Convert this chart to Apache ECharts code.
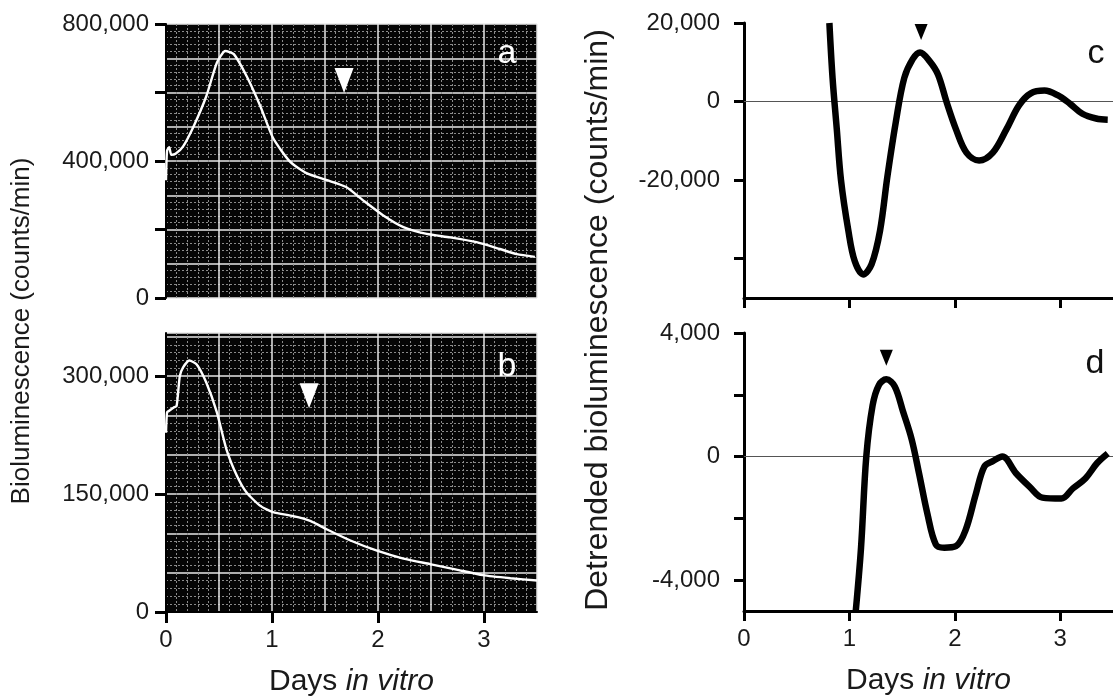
<!DOCTYPE html>
<html>
<head>
<meta charset="utf-8">
<script src="https://cdn.jsdelivr.net/npm/echarts@6/dist/echarts.min.js"></script>
<style>
html,body{margin:0;padding:0;background:#fff;}
#chart{width:1113px;height:700px;}
</style>
</head>
<body>
<div id="chart"></div>
<script>
// ---- Data ----
const daysA = [0, 0.01, 0.03, 0.05, 0.09, 0.16, 0.26, 0.38, 0.48, 0.56, 0.64, 0.76, 0.89, 1.01, 1.17, 1.33, 1.52, 1.70, 1.86, 2.05, 2.24, 2.46, 2.68, 2.93, 3.15, 3.31, 3.48];
const lumA  = [344000, 430000, 440000, 418000, 421000, 442000, 501000, 589000, 687000, 721000, 712000, 648000, 560000, 467000, 398000, 364000, 344000, 324000, 285000, 241000, 207000, 187000, 177000, 163000, 143000, 128000, 120000];

const daysB = [0, 0.01, 0.03, 0.07, 0.10, 0.13, 0.16, 0.22, 0.29, 0.38, 0.48, 0.57, 0.67, 0.76, 0.89, 1.01, 1.20, 1.36, 1.52, 1.74, 1.99, 2.24, 2.49, 2.74, 2.99, 3.25, 3.50];
const lumB  = [228000, 254000, 256000, 260000, 262000, 300000, 311000, 320000, 315000, 292000, 254000, 207000, 173000, 152000, 135000, 127000, 122000, 116000, 105000, 91000, 78000, 68000, 61000, 54000, 47000, 43000, 40000];

const daysC = [0.81, 0.84, 0.88, 0.92, 0.99, 1.05, 1.13, 1.21, 1.29, 1.36, 1.44, 1.52, 1.60, 1.67, 1.76, 1.84, 1.92, 2.01, 2.11, 2.23, 2.36, 2.49, 2.61, 2.72, 2.85, 2.97, 3.09, 3.21, 3.34, 3.45];
const detC  = [20000, 6000, -7000, -20000, -32900, -40600, -44000, -41400, -32900, -19100, -5200, 6000, 10800, 12500, 10300, 6900, 0, -7000, -13000, -15000, -13000, -7000, -900, 2100, 2800, 1700, -500, -3100, -4300, -4600];

const daysD = [1.06, 1.11, 1.16, 1.22, 1.28, 1.35, 1.43, 1.51, 1.59, 1.66, 1.74, 1.82, 1.90, 2.01, 2.10, 2.20, 2.28, 2.36, 2.45, 2.58, 2.71, 2.83, 3.01, 3.12, 3.24, 3.35, 3.45];
const detD  = [-5000, -2950, 0, 1660, 2320, 2500, 2270, 1440, 560, -540, -1860, -2850, -2950, -2900, -2400, -1200, -320, -150, 0, -540, -980, -1330, -1360, -1030, -700, -210, 100];

const arrowA = [[1.68, 635000]];
const arrowB = [[1.35, 275000]];
const arrowC = [[1.68, 17700]];
const arrowD = [[1.35, 3200]];

const dayTicks = [0, 1, 2, 3];
const ticksA = [0, 200000, 400000, 600000, 800000];
const labelsA = [0, 400000, 800000];
const ticksB = [0, 150000, 300000];
const ticksC = [-40000, -20000, 0, 20000];
const labelsC = [-20000, 0, 20000];
const ticksD = [-4000, -2000, 0, 2000, 4000];
const labelsD = [-4000, 0, 4000];

const panelLabels = ['a', 'b', 'c', 'd'];
const yTitleLeft = 'Bioluminescence (counts/min)';
const yTitleRight = 'Detrended bioluminescence (counts/min)';

// ---- Chart ----
const FONT = 'Liberation Sans, Arial, sans-serif';
const zip = (xs, ys) => xs.map((x, i) => [x, ys[i]]);
const fmt = v => v.toLocaleString('en-US');

const labelStyle = { fontFamily: FONT, fontSize: 24, color: '#1a1a1a' };
const nameRich = {
  n: { fontFamily: FONT, fontSize: 30, color: '#1a1a1a' },
  i: { fontFamily: FONT, fontSize: 30, color: '#1a1a1a', fontStyle: 'italic' }
};

function gridX(gridIndex, opts) {
  return Object.assign({
    type: 'value', gridIndex, min: 0, max: 3.5, interval: 1,
    axisLine: { show: false }, axisTick: { show: false }, axisLabel: { show: false },
    splitLine: { show: false }
  }, opts);
}

const chart = echarts.init(document.getElementById('chart'), null, { renderer: 'canvas' });

const darkSplitX = (gi) => gridX(gi, {
  interval: 0.5, position: 'top',
  splitLine: { show: true, lineStyle: { color: '#e8e8e8', width: 1.5 } },
  minorTick: { show: false, splitNumber: 5 },
  minorSplitLine: { show: true, lineStyle: { color: '#8a8a8a', width: 1, type: [2, 2] } }
});
const darkSplitY = (gi, max, interval) => ({
  type: 'value', gridIndex: gi, min: 0, max, interval, position: 'right',
  axisLine: { show: false }, axisTick: { show: false }, axisLabel: { show: false },
  splitLine: { show: true, lineStyle: { color: '#e8e8e8', width: 1.5 } },
  minorTick: { show: false, splitNumber: 5 },
  minorSplitLine: { show: true, lineStyle: { color: '#8a8a8a', width: 1, type: [2, 2] } }
});

const option = {
  animation: false,
  backgroundColor: '#ffffff',
  grid: [
    { left: 166, top: 24, width: 371, height: 274, show: true, backgroundColor: '#050505', borderWidth: 0 },
    { left: 166, top: 333, width: 371, height: 279, show: true, backgroundColor: '#050505', borderWidth: 0 },
    { left: 744, top: 23, width: 377, height: 275 },
    { left: 744, top: 333, width: 377, height: 278 }
  ],
  xAxis: [
    darkSplitX(0),
    gridX(1, {
      axisLine: { show: true, onZero: false, lineStyle: { color: '#000', width: 2 } },
      axisTick: { show: true, length: 11, lineStyle: { color: '#000', width: 3 }, customValues: dayTicks },
      axisLabel: { show: true, margin: 16, customValues: dayTicks, ...labelStyle },
      name: '{n|Days }{i|in vitro}', nameLocation: 'middle', nameGap: 55,
      nameTextStyle: { rich: nameRich }
    }),
    darkSplitX(1),
    gridX(2, {
      axisLine: { show: true, onZero: false, lineStyle: { color: '#000', width: 3 } },
      axisTick: { show: true, length: 10, lineStyle: { color: '#000', width: 3 }, customValues: dayTicks }
    }),
    gridX(3, {
      axisLine: { show: true, onZero: false, lineStyle: { color: '#000', width: 3 } },
      axisTick: { show: true, length: 10, lineStyle: { color: '#000', width: 3 }, customValues: dayTicks },
      axisLabel: { show: true, margin: 16, customValues: dayTicks, ...labelStyle },
      name: '{n|Days }{i|in vitro}', nameLocation: 'middle', nameGap: 55,
      nameTextStyle: { rich: nameRich }
    })
  ],
  yAxis: [
    { type: 'value', gridIndex: 0, min: 0, max: 800000, interval: 200000,
      axisLine: { show: true, lineStyle: { color: '#000', width: 2 } },
      axisTick: { show: true, length: 11, lineStyle: { color: '#000', width: 3 }, customValues: ticksA },
      axisLabel: { show: true, margin: 17, customValues: labelsA, formatter: fmt, ...labelStyle },
      splitLine: { show: false } },
    darkSplitY(0, 800000, 100000),
    { type: 'value', gridIndex: 1, min: 0, max: 355000, interval: 50000,
      axisLine: { show: true, lineStyle: { color: '#000', width: 2 } },
      axisTick: { show: true, length: 11, lineStyle: { color: '#000', width: 3 }, customValues: ticksB },
      axisLabel: { show: true, margin: 17, customValues: ticksB, formatter: fmt, ...labelStyle },
      splitLine: { show: false } },
    darkSplitY(1, 355000, 50000),
    { type: 'value', gridIndex: 2, min: -50000, max: 20000, interval: 10000,
      axisLine: { show: true, onZero: false, lineStyle: { color: '#000', width: 3 } },
      axisTick: { show: true, length: 10, lineStyle: { color: '#000', width: 3 }, customValues: ticksC },
      axisLabel: { show: true, margin: 24, customValues: labelsC, formatter: fmt, ...labelStyle },
      splitLine: { show: false } },
    { type: 'value', gridIndex: 3, min: -5000, max: 4000, interval: 1000,
      axisLine: { show: true, onZero: false, lineStyle: { color: '#000', width: 3 } },
      axisTick: { show: true, length: 10, lineStyle: { color: '#000', width: 3 }, customValues: ticksD },
      axisLabel: { show: true, margin: 24, customValues: labelsD, formatter: fmt, ...labelStyle },
      splitLine: { show: false } }
  ],
  series: [
    { type: 'line', xAxisIndex: 0, yAxisIndex: 0, data: zip(daysA, lumA), showSymbol: false, smooth: 0.2,
      lineStyle: { color: '#ffffff', width: 2.4 }, z: 5 },
    { type: 'line', xAxisIndex: 1, yAxisIndex: 2, data: zip(daysB, lumB), showSymbol: false, smooth: 0.2,
      lineStyle: { color: '#ffffff', width: 2.4 }, z: 5 },
    { type: 'line', xAxisIndex: 3, yAxisIndex: 4, data: zip(daysC, detC), showSymbol: false, smooth: 0.35,
      lineStyle: { color: '#000000', width: 6.5 }, z: 5,
      markLine: { silent: true, symbol: 'none', label: { show: false },
        lineStyle: { color: '#555', width: 1.2, type: 'solid' }, data: [{ yAxis: 0 }] } },
    { type: 'line', xAxisIndex: 4, yAxisIndex: 5, data: zip(daysD, detD), showSymbol: false, smooth: 0.35,
      lineStyle: { color: '#000000', width: 6.5 }, z: 5,
      markLine: { silent: true, symbol: 'none', label: { show: false },
        lineStyle: { color: '#555', width: 1.2, type: 'solid' }, data: [{ yAxis: 0 }] } },
    { type: 'scatter', xAxisIndex: 0, yAxisIndex: 0, data: arrowA, symbol: 'triangle', symbolRotate: 180,
      symbolSize: [19, 25], itemStyle: { color: '#ffffff', opacity: 1 }, z: 6 },
    { type: 'scatter', xAxisIndex: 1, yAxisIndex: 2, data: arrowB, symbol: 'triangle', symbolRotate: 180,
      symbolSize: [19, 25], itemStyle: { color: '#ffffff', opacity: 1 }, z: 6 },
    { type: 'scatter', xAxisIndex: 3, yAxisIndex: 4, data: arrowC, symbol: 'triangle', symbolRotate: 180,
      symbolSize: [13, 16], itemStyle: { color: '#000000', opacity: 1 }, z: 6 },
    { type: 'scatter', xAxisIndex: 4, yAxisIndex: 5, data: arrowD, symbol: 'triangle', symbolRotate: 180,
      symbolSize: [13, 16], itemStyle: { color: '#000000', opacity: 1 }, z: 6 }
  ],
  graphic: [
    { type: 'text', x: 507, y: 54, z: 100, style: { text: panelLabels[0], fontFamily: FONT, fontSize: 34, fill: '#fff', align: 'center', verticalAlign: 'middle' } },
    { type: 'text', x: 507, y: 367, z: 100, style: { text: panelLabels[1], fontFamily: FONT, fontSize: 34, fill: '#fff', align: 'center', verticalAlign: 'middle' } },
    { type: 'text', x: 1096, y: 54, z: 100, style: { text: panelLabels[2], fontFamily: FONT, fontSize: 34, fill: '#111', align: 'center', verticalAlign: 'middle' } },
    { type: 'text', x: 1095, y: 364, z: 100, style: { text: panelLabels[3], fontFamily: FONT, fontSize: 34, fill: '#111', align: 'center', verticalAlign: 'middle' } },
    { type: 'text', x: 22, y: 331, rotation: Math.PI / 2, z: 100, style: { text: yTitleLeft, fontFamily: FONT, fontSize: 26, fill: '#1a1a1a', align: 'center', verticalAlign: 'middle' } },
    { type: 'text', x: 598, y: 320, rotation: Math.PI / 2, z: 100, style: { text: yTitleRight, fontFamily: FONT, fontSize: 32, fill: '#1a1a1a', align: 'center', verticalAlign: 'middle' } }
  ]
};
chart.setOption(option);
</script>
</body>
</html>
